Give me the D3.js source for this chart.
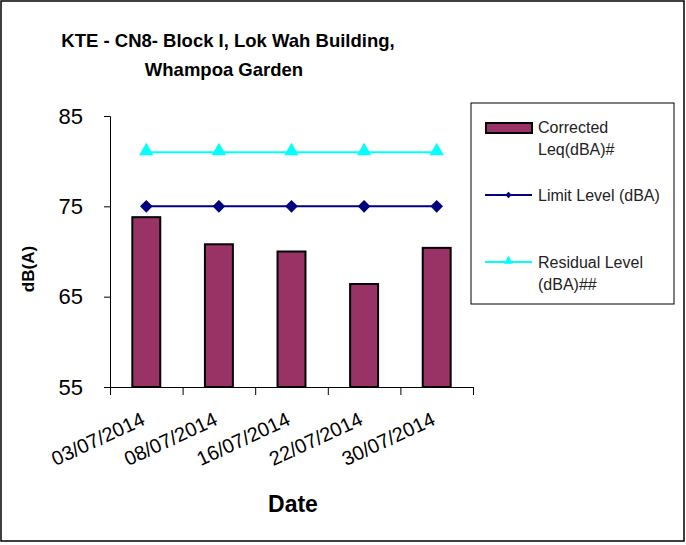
<!doctype html>
<html lang="en">
<head>
    <meta charset="utf-8">
    <title>KTE - CN8</title>
    <script src="https://cdnjs.cloudflare.com/ajax/libs/d3/7.8.5/d3.min.js"></script>
    <style>
        body { margin: 0; background: #fff; }
        svg text { font-family: "Liberation Sans", Arial, sans-serif; fill: #000; }
        .axis path, .axis line { stroke: #000; stroke-width: 1; }
    </style>
</head>
<body>
    <div id="chart"></div>
    <script>
        var dates = ['03/07/2014', '08/07/2014', '16/07/2014', '22/07/2014', '30/07/2014'];
        var correctedLeq = [73.8, 70.8, 70.0, 66.4, 70.4];
        var limitLevel = [75, 75, 75, 75, 75];
        var residualLevel = [81, 81, 81, 81, 81];
        var yTicks = [55, 65, 75, 85];

        var width = 686, height = 545;
        var plotLeft = 110, plotRight = 473, plotTop = 116, plotBottom = 387;

        var svg = d3.select('#chart')
            .append('svg')
            .attr('width', width)
            .attr('height', height);

        // outer frame
        svg.append('rect')
            .attr('x', 1).attr('y', 1)
            .attr('width', width - 3).attr('height', 540)
            .attr('fill', 'none')
            .attr('stroke', '#000')
            .attr('stroke-width', 1.5);

        var x = d3.scaleBand().domain(dates).range([plotLeft, plotRight]);
        var y = d3.scaleLinear().domain([55, 85]).range([plotBottom, plotTop]);
        var edges = d3.scaleLinear().domain([0, dates.length]).range([plotLeft, plotRight]);

        // y axis
        svg.append('g')
            .attr('class', 'axis')
            .attr('transform', 'translate(' + plotLeft + ',0)')
            .call(d3.axisLeft(y).tickValues(yTicks).tickSize(6).tickPadding(21))
            .call(function(g) {
                g.selectAll('text').style('font-size', '22px');
            });

        // x axis: ticks at category edges
        svg.append('g')
            .attr('class', 'axis')
            .attr('transform', 'translate(0,' + plotBottom + ')')
            .call(d3.axisBottom(edges).tickValues(d3.range(dates.length + 1)).tickSize(8).tickFormat(''));

        // x labels
        svg.append('g').selectAll('text')
            .data(dates)
            .enter().append('text')
            .attr('transform', function(d) {
                return 'translate(' + (x(d) + x.bandwidth() / 2) + ',' + 424 + ') rotate(-25)';
            })
            .attr('text-anchor', 'end')
            .style('font-size', '20px')
            .text(function(d) { return d; });

        // bars
        var bw = x.bandwidth() * 0.385;
        svg.append('g').selectAll('rect')
            .data(correctedLeq)
            .enter().append('rect')
            .attr('x', function(d, i) { return x(dates[i]) + (x.bandwidth() - bw) / 2; })
            .attr('y', function(d) { return y(d); })
            .attr('width', bw)
            .attr('height', function(d) { return plotBottom - y(d); })
            .attr('fill', '#993366')
            .attr('stroke', '#000')
            .attr('stroke-width', 2);

        var line = d3.line()
            .x(function(d, i) { return x(dates[i]) + x.bandwidth() / 2; })
            .y(function(d) { return y(d); });

        var diamond = d3.symbol().type(d3.symbolSquare);
        var triangle = d3.symbol().type(d3.symbolTriangle);

        // limit level
        svg.append('path')
            .datum(limitLevel)
            .attr('d', line)
            .attr('fill', 'none')
            .attr('stroke', '#000080')
            .attr('stroke-width', 2);
        svg.append('g').selectAll('path')
            .data(limitLevel)
            .enter().append('path')
            .attr('d', diamond.size(80))
            .attr('transform', function(d, i) {
                return 'translate(' + (x(dates[i]) + x.bandwidth() / 2) + ',' + y(d) + ') rotate(45)';
            })
            .attr('fill', '#000080');

        // residual level
        svg.append('path')
            .datum(residualLevel)
            .attr('d', line)
            .attr('fill', 'none')
            .attr('stroke', '#00ffff')
            .attr('stroke-width', 2);
        svg.append('g').selectAll('path')
            .data(residualLevel)
            .enter().append('path')
            .attr('d', triangle.size(90))
            .attr('transform', function(d, i) {
                return 'translate(' + (x(dates[i]) + x.bandwidth() / 2) + ',' + (y(d) - 1) + ')';
            })
            .attr('fill', '#00ffff');

        // title
        var title = svg.append('text')
            .attr('text-anchor', 'middle')
            .style('font-size', '18.5px')
            .style('font-weight', 'bold');
        title.append('tspan').attr('x', 228).attr('y', 47).text('KTE - CN8- Block I, Lok Wah Building,');
        title.append('tspan').attr('x', 224).attr('y', 76).text('Whampoa Garden');

        // axis titles
        svg.append('text')
            .attr('transform', 'translate(34,269) rotate(-90)')
            .attr('text-anchor', 'middle')
            .style('font-size', '17px')
            .style('font-weight', 'bold')
            .text('dB(A)');

        svg.append('text')
            .attr('x', 293)
            .attr('y', 512)
            .attr('text-anchor', 'middle')
            .style('font-size', '23px')
            .style('font-weight', 'bold')
            .text('Date');

        // legend
        var legend = svg.append('g');
        legend.append('rect')
            .attr('x', 471).attr('y', 103)
            .attr('width', 203).attr('height', 201)
            .attr('fill', '#fff')
            .attr('stroke', '#000')
            .attr('stroke-width', 1);

        legend.append('rect')
            .attr('x', 486).attr('y', 123)
            .attr('width', 46).attr('height', 10)
            .attr('fill', '#993366')
            .attr('stroke', '#000')
            .attr('stroke-width', 2);

        legend.append('line')
            .attr('x1', 485).attr('x2', 532).attr('y1', 195).attr('y2', 195)
            .attr('stroke', '#000080').attr('stroke-width', 2);
        legend.append('path')
            .attr('d', diamond.size(20))
            .attr('transform', 'translate(508.5,195) rotate(45)')
            .attr('fill', '#000080');

        legend.append('line')
            .attr('x1', 485).attr('x2', 532).attr('y1', 262).attr('y2', 262)
            .attr('stroke', '#00ffff').attr('stroke-width', 2);
        legend.append('path')
            .attr('d', triangle.size(36))
            .attr('transform', 'translate(508.5,261)')
            .attr('fill', '#00ffff');

        var legendLines = [
            ['Corrected', 133], ['Leq(dBA)#', 155],
            ['Limit Level (dBA)', 201],
            ['Residual Level', 268], ['(dBA)##', 290]
        ];
        legend.selectAll('text.item')
            .data(legendLines)
            .enter().append('text')
            .attr('class', 'item')
            .attr('x', 538)
            .attr('y', function(d) { return d[1]; })
            .style('font-size', '16px')
            .style('fill', '#222')
            .text(function(d) { return d[0]; });
    </script>
</body>
</html>
